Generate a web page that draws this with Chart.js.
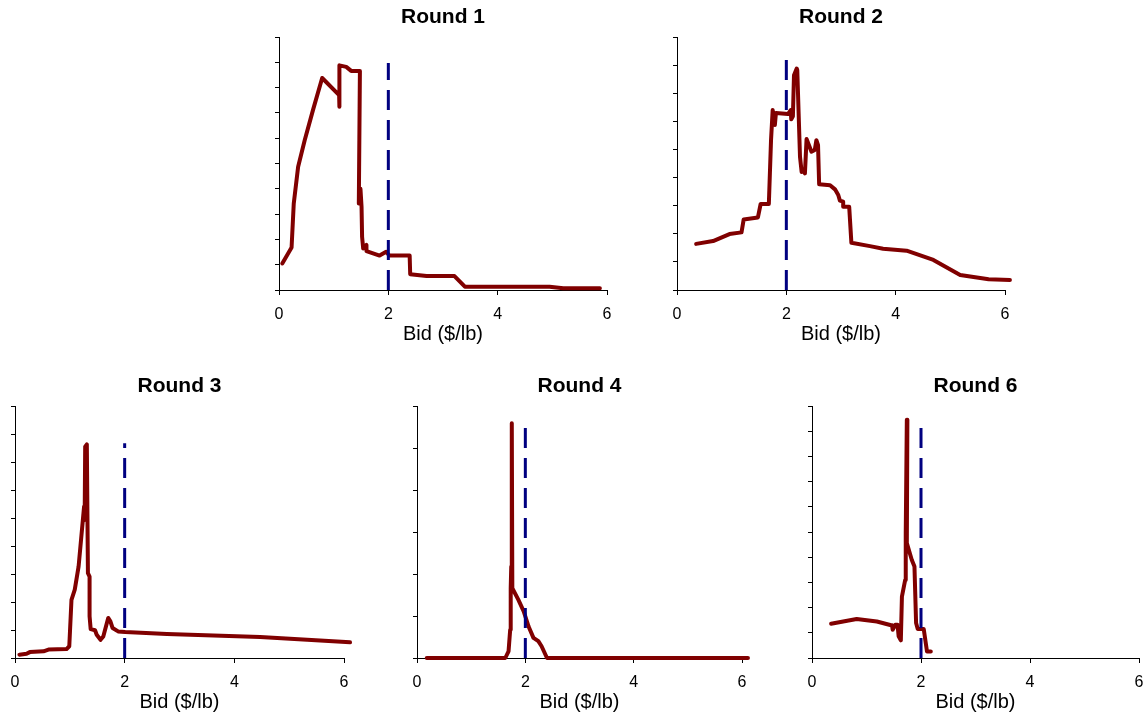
<!DOCTYPE html>
<html>
<head>
<meta charset="utf-8">
<script src="https://cdn.jsdelivr.net/npm/chart.js@4"></script>
<style>
  body { margin: 0; background: #fff; overflow: hidden; }
  canvas { position: absolute; }
</style>
</head>
<body>
<script>
// bid distributions (y in axis tick steps)
const round1Bid   = [0.06, 0.23, 0.27, 0.35, 0.47, 0.62, 0.79, 1.10, 1.11, 1.10, 1.23, 1.32, 1.48, 1.46, 1.49, 1.51, 1.52, 1.54, 1.60, 1.60, 1.84, 1.96, 2.02, 2.39, 2.40, 2.70, 3.21, 3.40, 4.95, 5.20, 5.87];
const round1Share = [1.05, 1.68, 3.42, 4.87, 5.92, 7.10, 8.38, 7.70, 7.24, 8.88, 8.82, 8.66, 8.66, 3.42, 4.00, 3.29, 2.10, 1.64, 1.78, 1.54, 1.36, 1.51, 1.36, 1.36, 0.62, 0.55, 0.55, 0.13, 0.13, 0.07, 0.07];

const round2Bid   = [0.35, 0.66, 0.96, 1.18, 1.22, 1.48, 1.53, 1.68, 1.72, 1.75, 1.79, 1.81, 2.03, 2.08, 2.09, 2.12, 2.14, 2.19, 2.20, 2.25, 2.28, 2.31, 2.34, 2.37, 2.46, 2.52, 2.55, 2.58, 2.60, 2.80, 2.89, 2.95, 2.98, 3.04, 3.04, 3.15, 3.19, 3.53, 3.77, 4.20, 4.69, 5.18, 5.70, 6.09];
const round2Share = [1.64, 1.74, 1.99, 2.05, 2.51, 2.58, 3.06, 3.06, 5.33, 6.40, 5.87, 6.30, 6.26, 6.40, 6.07, 6.18, 7.64, 7.88, 7.82, 4.74, 4.20, 4.24, 4.15, 5.37, 4.92, 4.98, 5.33, 5.15, 3.76, 3.73, 3.58, 3.38, 3.18, 3.14, 2.96, 2.96, 1.68, 1.56, 1.47, 1.40, 1.07, 0.53, 0.38, 0.36];

const round3Bid   = [0.08, 0.21, 0.27, 0.52, 0.61, 0.94, 0.99, 1.03, 1.09, 1.16, 1.26, 1.27, 1.28, 1.31, 1.33, 1.36, 1.36, 1.38, 1.46, 1.49, 1.56, 1.61, 1.70, 1.74, 1.78, 1.88, 2.01, 2.77, 4.47, 6.11];
const round3Share = [0.12, 0.15, 0.21, 0.24, 0.30, 0.32, 0.42, 2.08, 2.44, 3.27, 5.41, 4.93, 7.55, 7.63, 3.03, 2.91, 1.49, 1.03, 0.99, 0.83, 0.65, 0.77, 1.43, 1.31, 1.07, 0.95, 0.93, 0.86, 0.75, 0.56];

const round4Bid   = [0.18, 1.63, 1.69, 1.72, 1.73, 1.74, 1.75, 1.76, 1.87, 1.97, 2.06, 2.15, 2.24, 2.30, 2.40, 6.11];
const round4Share = [0.00, 0.00, 0.16, 0.67, 1.66, 2.18, 5.59, 1.66, 1.39, 1.11, 0.75, 0.48, 0.40, 0.28, 0.00, 0.00];

const round6Bid   = [0.35, 0.82, 1.19, 1.47, 1.48, 1.53, 1.57, 1.59, 1.63, 1.65, 1.71, 1.72, 1.74, 1.75, 1.74, 1.83, 1.88, 1.91, 1.94, 2.05, 2.11, 2.18];
const round6Share = [1.36, 1.55, 1.45, 1.29, 1.12, 1.32, 1.32, 0.86, 0.70, 2.44, 3.10, 4.95, 9.45, 9.45, 4.56, 3.90, 3.63, 1.39, 1.15, 1.15, 0.26, 0.26];

const roundTitles = ["Round 1", "Round 2", "Round 3", "Round 4", "Round 6"];
const roundBids   = [round1Bid, round2Bid, round3Bid, round4Bid, round6Bid];
const roundShares = [round1Share, round2Share, round3Share, round4Share, round6Share];
const yMaxes      = [10, 9, 9, 6, 10];
const reserveBid  = 2;
const reserveTop  = [8.97, 8.3, 7.67, 5.52, 9.2];
const xMin = 0, xMax = 6, xStep = 2;
const xLabel = "Bid ($/lb)";

// plot areas in page pixels
const plots = [
  { left: 279, top: 37, w: 328, h: 253 },
  { left: 677, top: 37, w: 328, h: 253 },
  { left: 15, top: 406, w: 329, h: 252 },
  { left: 417, top: 406, w: 325, h: 252 },
  { left: 812, top: 406, w: 327, h: 252 }
];

const FONT = "'Liberation Sans', Arial, sans-serif";
const side = 15, titleH = 37, bottomH = 56;

roundTitles.forEach((title, i) => {
  const p = plots[i];
  const canvas = document.createElement("canvas");
  canvas.width = p.w + side * 2;
  canvas.height = p.h + titleH + bottomH;
  canvas.style.left = (p.left - side) + "px";
  canvas.style.top = (p.top - titleH) + "px";
  document.body.appendChild(canvas);

  const points = roundBids[i].map((b, k) => ({ x: b, y: roundShares[i][k] }));

  new Chart(canvas, {
    type: "line",
    data: {
      datasets: [
        {
          data: [{ x: reserveBid, y: 0 }, { x: reserveBid, y: reserveTop[i] }],
          borderColor: "#000080",
          borderWidth: 3,
          borderDash: [20, 10],
          pointRadius: 0,
          clip: false
        },
        {
          data: points,
          borderColor: "#800000",
          borderWidth: 4,
          pointRadius: 0,
          tension: 0,
          borderJoinStyle: "round",
          borderCapStyle: "round",
          clip: false
        }
      ]
    },
    options: {
      responsive: false,
      animation: false,
      layout: { padding: { left: side, right: side, top: 0, bottom: 0 } },
      plugins: {
        legend: { display: false },
        tooltip: { enabled: false },
        title: {
          display: true,
          text: title,
          color: "#000",
          font: { family: FONT, size: 21, weight: "bold", lineHeight: 1.2 },
          padding: { top: 5, bottom: 6.8 }
        }
      },
      scales: {
        x: {
          type: "linear",
          min: xMin,
          max: xMax,
          ticks: { stepSize: xStep, color: "#000", padding: 10, font: { family: FONT, size: 16 } },
          grid: { drawOnChartArea: false, tickLength: 5, color: "#000" },
          border: { color: "#000" },
          title: { display: true, text: xLabel, color: "#000", padding: 0, font: { family: FONT, size: 20, lineHeight: 1.2 } },
          afterFit: s => { s.height = bottomH; }
        },
        y: {
          min: 0,
          max: yMaxes[i],
          ticks: { display: false, stepSize: 1 },
          grid: { drawOnChartArea: false, tickLength: 4, color: "#000" },
          border: { color: "#000" },
          afterFit: s => { s.width = 0; }
        }
      }
    }
  });
});
</script>
</body>
</html>
